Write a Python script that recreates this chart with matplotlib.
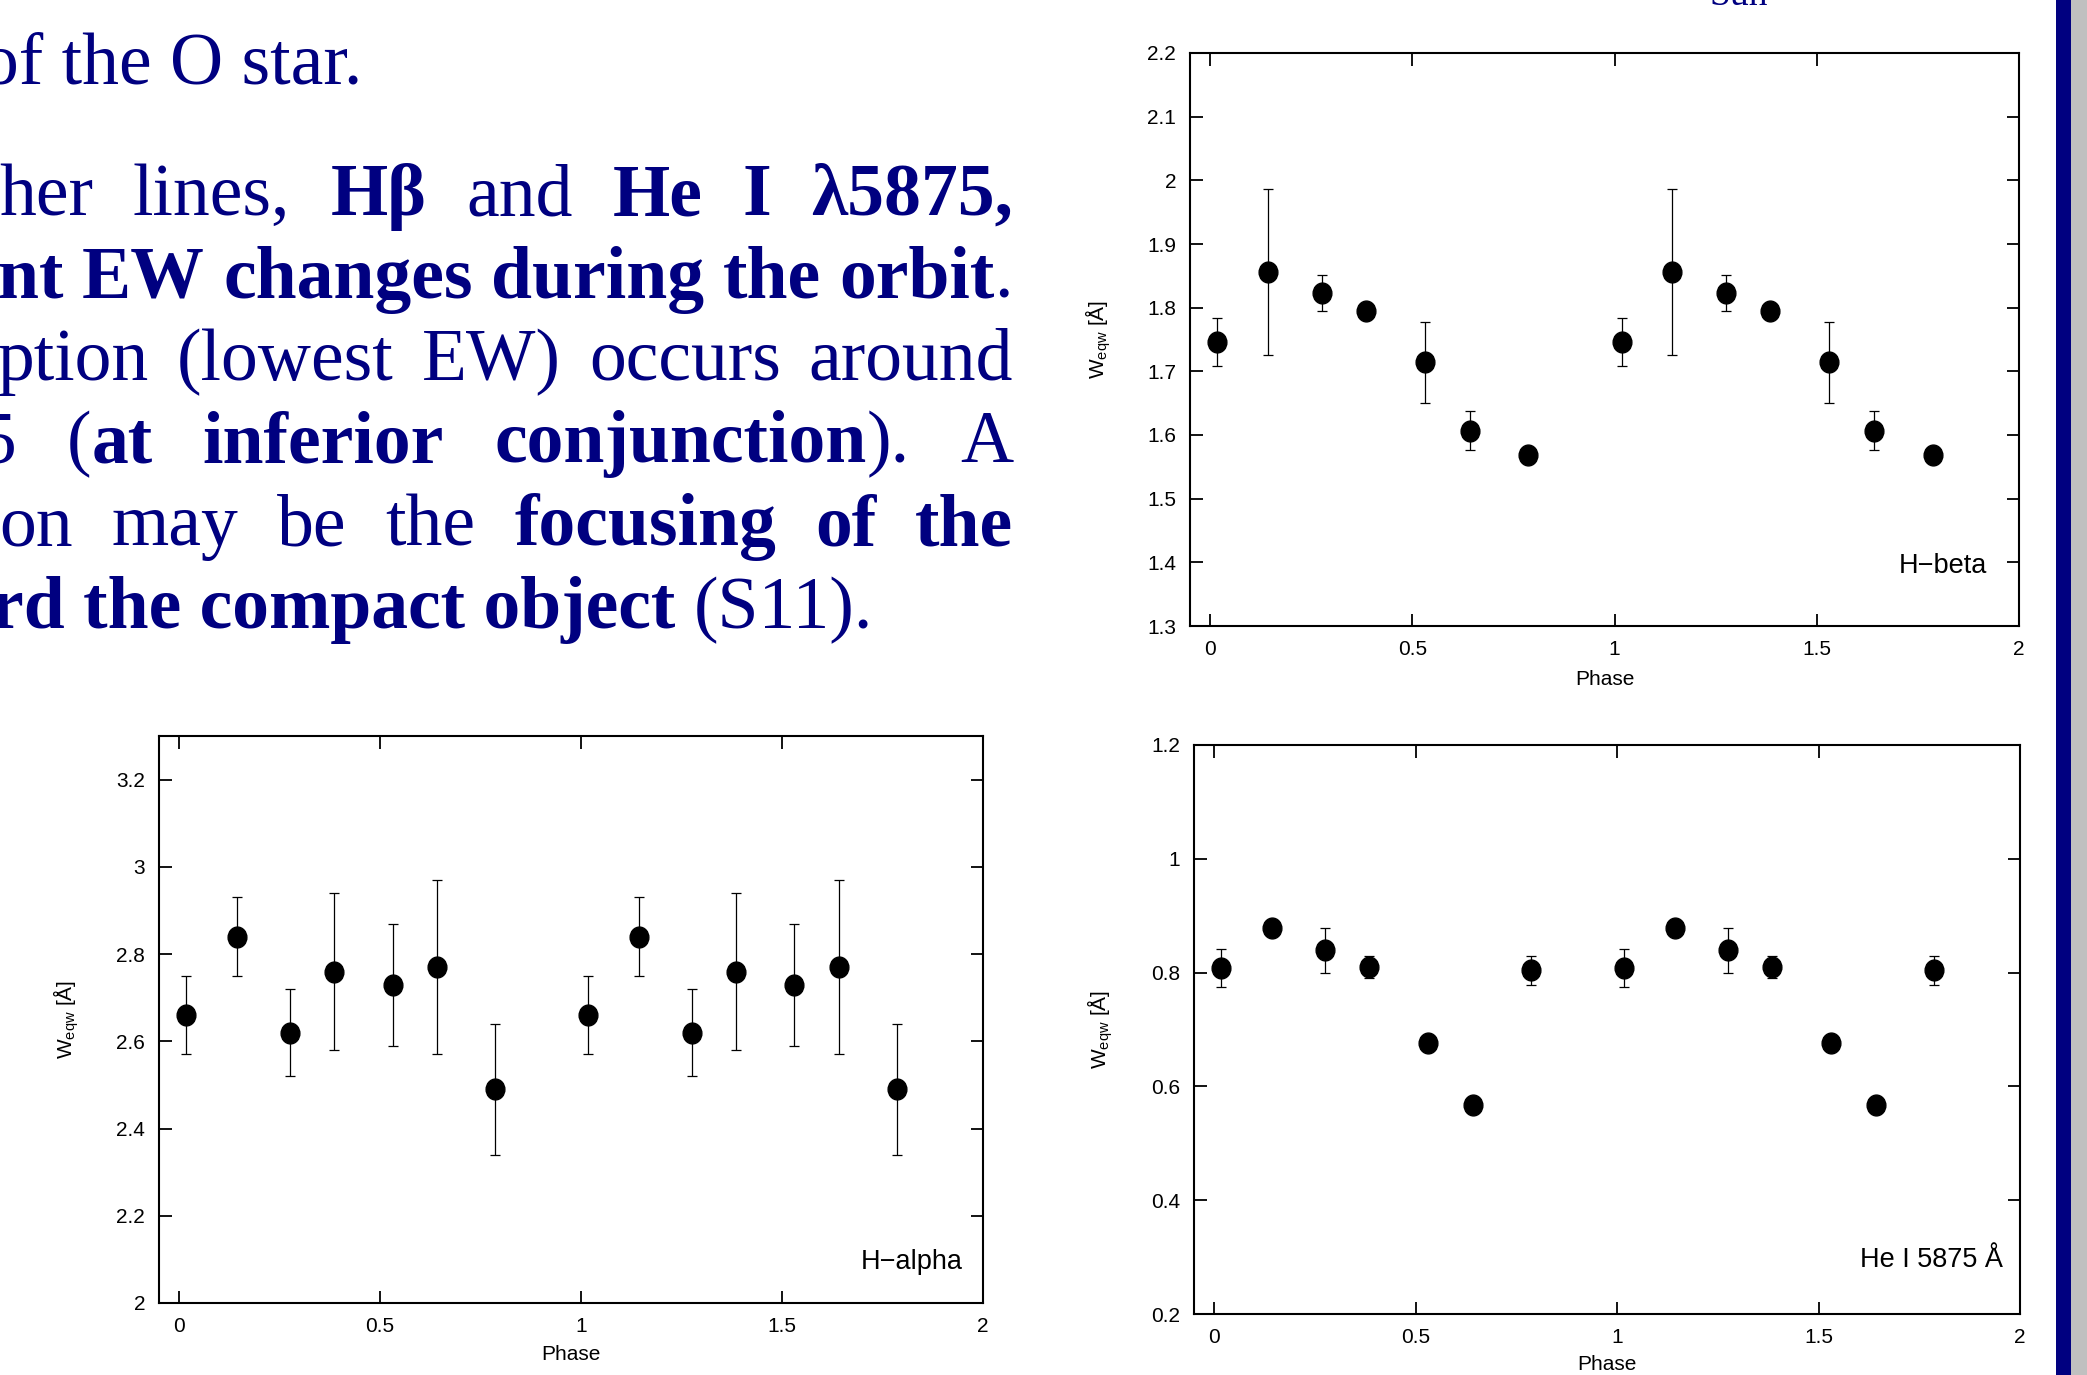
import matplotlib
matplotlib.use('Agg')
import matplotlib.pyplot as plt
import numpy as np
from matplotlib.ticker import FormatStrFormatter
from matplotlib.patches import Rectangle
from matplotlib.path import Path

W, H = 2087, 1375
DPI = 100
NAVY = '#000080'

# ---------------- data ----------------
phase = [0.018, 0.143, 0.276, 0.385, 0.531, 0.642, 0.787,
         1.018, 1.143, 1.276, 1.385, 1.531, 1.642, 1.787]

hbeta = [1.746, 1.856, 1.823, 1.795, 1.714, 1.607, 1.569,
         1.746, 1.856, 1.823, 1.795, 1.714, 1.607, 1.569]
hbeta_err = [0.037, 0.131, 0.029, 0.0, 0.063, 0.031, 0.0,
             0.037, 0.131, 0.029, 0.0, 0.063, 0.031, 0.0]

halpha = [2.66, 2.84, 2.62, 2.76, 2.73, 2.77, 2.49,
          2.66, 2.84, 2.62, 2.76, 2.73, 2.77, 2.49]
halpha_err = [0.09, 0.09, 0.10, 0.18, 0.14, 0.20, 0.15,
              0.09, 0.09, 0.10, 0.18, 0.14, 0.20, 0.15]

hei = [0.808, 0.879, 0.839, 0.810, 0.676, 0.567, 0.804,
       0.808, 0.879, 0.839, 0.810, 0.676, 0.567, 0.804]
hei_err = [0.033, 0.0, 0.040, 0.019, 0.0, 0.0, 0.025,
           0.033, 0.0, 0.040, 0.019, 0.0, 0.0, 0.025]

xticks = [0, 0.5, 1, 1.5, 2]
hbeta_yticks = [1.3, 1.4, 1.5, 1.6, 1.7, 1.8, 1.9, 2.0, 2.1, 2.2]
halpha_yticks = [2.0, 2.2, 2.4, 2.6, 2.8, 3.0, 3.2]
hei_yticks = [0.2, 0.4, 0.6, 0.8, 1.0, 1.2]

# slide text lines: list of words, each word = list of (text, bold)
text_lines = [
    [[("her", 0)], [("lines,", 0)], [("H\u03b2", 1)], [("and", 0)],
     [("He", 1)], [("I", 1)], [("\u03bb5875,", 1)]],
    [[("nt", 1)], [("EW", 1)], [("changes", 1)], [("during", 1)],
     [("the", 1)], [("orbit", 1), (".", 0)]],
    [[("ption", 0)], [("(lowest", 0)], [("EW)", 0)], [("occurs", 0)],
     [("around", 0)]],
    [[("5", 0)], [("(", 0), ("at", 1)], [("inferior", 1)],
     [("conjunction", 1), (").", 0)], [("A", 0)]],
    [[("on", 0)], [("may", 0)], [("be", 0)], [("the", 0)],
     [("focusing", 1)], [("of", 1)], [("the", 1)]],
]
line_left = [-1, -2, -2, -20, -1]
line_base = [215, 298, 380, 462, 545]

plt.rcParams['mathtext.default'] = 'regular'
plt.rcParams['font.family'] = ['Liberation Sans', 'DejaVu Sans']

fig = plt.figure(figsize=(W / DPI, H / DPI), dpi=DPI, facecolor='white')
renderer = fig.canvas.get_renderer()

FS = 53
SERIF = ['Liberation Serif', 'DejaVu Serif']


def wdt(s, bold):
    t = fig.text(0, 0, s, fontsize=FS, family=SERIF,
                 weight='bold' if bold else 'normal')
    w = t.get_window_extent(renderer).width
    t.remove()
    return w


def put(xpx, ybase, s, bold, ha='left'):
    fig.text(xpx / W, 1 - ybase / H, s, fontsize=FS, family=SERIF,
             weight='bold' if bold else 'normal', color=NAVY,
             ha=ha, va='baseline')


# first line (not justified)
put(362, 83, "of the O star.", 0, ha='right')

# justified lines
RIGHT = 1013
for words, L, yb in zip(text_lines, line_left, line_base):
    widths = [[wdt(s, b) for s, b in wd] for wd in words]
    total = sum(sum(w) for w in widths)
    gap = (RIGHT - L - total) / (len(words) - 1)
    x = L
    for wd, ws in zip(words, widths):
        for (s, b), w in zip(wd, ws):
            put(x, yb, s, b)
            x += w
        x += gap

# last line (left part bold, right part regular), ends at x=873
natgap = wdt("x x", 0) - 2 * wdt("x", 0)
wb = wdt("rd the compact object", 1)
wr = wdt("(S11).", 0)
x0 = 873 - (wb + natgap + wr)
put(x0, 628, "rd the compact object", 1)
put(x0 + wb + natgap, 628, "(S11).", 0)

# cut-off text at top
fig.text(1710 / W, 1 - 5 / H, "Sun", fontsize=27, family=SERIF,
         color=NAVY, ha='left', va='baseline')

# right decoration bars
fig.add_artist(Rectangle((2056 / W, 0), 15 / W, 1, transform=fig.transFigure,
                         facecolor=NAVY, edgecolor='none'))
fig.add_artist(Rectangle((2071 / W, 0), 16 / W, 1, transform=fig.transFigure,
                         facecolor='#C0C0C0', edgecolor='none'))

TFS = 15
# slightly tall ellipse marker (as in the stretched original)
_c = Path.unit_circle()
ELL = Path(_c.vertices * np.array([0.9, 1.0]), _c.codes)


def panel(rect, y, yerr, ylim, yticks, label, lx, ly, ylab_x, xlab_y):
    l, t, r, b = rect
    ax = fig.add_axes([l / W, 1 - b / H, (r - l) / W, (b - t) / H])
    x = np.array(phase)
    yv = np.array(y)
    e = np.array(yerr)
    m = e > 0
    ax.errorbar(x[m], yv[m], yerr=e[m], fmt='none', ecolor='black',
                elinewidth=0.9, capsize=3.5, capthick=0.9, zorder=2)
    ax.plot(x, yv, linestyle='none', marker=ELL, color='black', ms=15,
            zorder=3)
    ax.set_xlim(-0.05, 2)
    ax.set_ylim(*ylim)
    ax.set_xticks(xticks)
    ax.set_yticks(yticks)
    ax.xaxis.set_major_formatter(FormatStrFormatter('%g'))
    ax.yaxis.set_major_formatter(FormatStrFormatter('%g'))
    ax.tick_params(direction='in', length=9, width=1.3, top=True, right=True,
                   labelsize=TFS)
    ax.tick_params(axis='x', pad=10)
    ax.tick_params(axis='y', pad=10)
    for s in ax.spines.values():
        s.set_linewidth(1.5)
    ax.set_xlabel('Phase', fontsize=TFS)
    ax.xaxis.set_label_coords(0.5, xlab_y)
    ax.xaxis.label.set_va('center')
    ax.set_ylabel('W$_{eqw}$ [\u00c5]', fontsize=TFS)
    ax.yaxis.set_label_coords(ylab_x, 0.5)
    ax.yaxis.label.set_va('center')
    ax.text(lx, ly, label, ha='right', va='center', fontsize=19.5)
    return ax


panel((1190, 53, 2019, 626), hbeta, hbeta_err, (1.3, 2.2), hbeta_yticks,
      'H\u2212beta', 1.92, 1.395, -0.111, -0.0925)
panel((159, 736, 983, 1303), halpha, halpha_err, (2.0, 3.3), halpha_yticks,
      'H\u2212alpha', 1.95, 2.094, -0.112, -0.0917)
panel((1194, 745, 2020, 1314), hei, hei_err, (0.2, 1.2), hei_yticks,
      'He I 5875 \u00c5', 1.958, 0.295, -0.113, -0.088)

fig.savefig('out.png', dpi=DPI, facecolor='white')
